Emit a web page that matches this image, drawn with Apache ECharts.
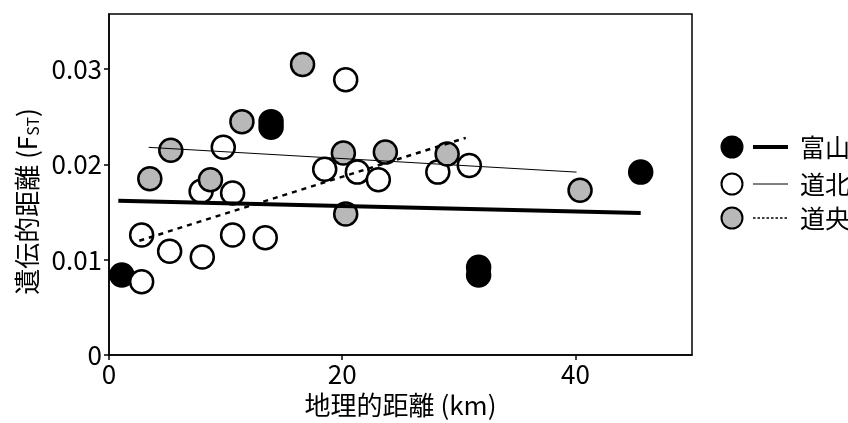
<!DOCTYPE html>
<html>
<head>
<meta charset="utf-8">
<script src="https://cdn.jsdelivr.net/npm/echarts@6/dist/echarts.min.js"></script>
<style>
  html, body { margin: 0; padding: 0; background: #fff; }
  #chart { width: 848px; height: 423px; }
</style>
</head>
<body>
<div id="chart"></div>
<script>
// 富山 (black), 道北 (open), 道央 (gray): [distance km, FST]
const toyamaPts = [[1.1, 0.0084], [13.9, 0.0245], [13.9, 0.0239], [31.7, 0.0092], [31.7, 0.0084], [45.6, 0.0192]]
const dohokuPts = [
  [2.8, 0.0077], [2.8, 0.0126], [5.2, 0.0109], [8.0, 0.0103], [10.6, 0.0126], [13.4, 0.0123],
  [7.9, 0.0172], [10.6, 0.0170], [9.8, 0.0218], [20.3, 0.0289], [18.5, 0.0195], [21.3, 0.0192],
  [23.1, 0.0184], [28.2, 0.0192], [30.9, 0.0199]
]
const dooPts = [
  [3.5, 0.0185], [5.3, 0.0215], [8.7, 0.0184], [11.4, 0.0245], [16.6, 0.0305], [20.1, 0.0212],
  [20.3, 0.0148], [23.7, 0.0213], [29.0, 0.0211], [40.4, 0.0173]
]
// regression lines
const toyamaFit = [[0.8, 0.0162], [45.6, 0.0149]]
const dohokuFit = [[3.4, 0.0218], [40.1, 0.0192]]
const dooFit = [[2.6, 0.0120], [30.6, 0.0228]]

const xTicks = [0, 20, 40]
const yTicks = [0, 0.01, 0.02, 0.03]
const legendNames = ['富山', '道北', '道央']

const FONT = "'Noto Sans CJK JP', 'Noto Sans', sans-serif"
const chart = echarts.init(document.getElementById('chart'))

const dot = (fill) => ({
  type: 'scatter',
  symbol: 'circle',
  symbolSize: 23,
  itemStyle: { color: fill, borderColor: '#000', borderWidth: 2.5, opacity: 1 },
  emphasis: { disabled: true },
  animation: false
})
const fit = (w, type) => ({
  type: 'line',
  symbol: 'none',
  z: 5,
  lineStyle: { color: '#000', width: w, type: type },
  emphasis: { disabled: true },
  animation: false
})

// legend rows drawn by hand: circle + line sample + label
const legendY = [147, 184, 218]
const legendFill = ['#000', '#fff', '#b8b8b8']
const legendLine = [{ w: 4, d: null }, { w: 1, d: null }, { w: 1.5, d: [2.5, 2] }]
const graphics = []
legendNames.forEach((name, i) => {
  graphics.push({
    type: 'circle', shape: { cx: 732, cy: legendY[i], r: 10.5 },
    style: { fill: legendFill[i], stroke: '#000', lineWidth: 2 }
  })
  graphics.push({
    type: 'line', shape: { x1: 753, y1: legendY[i], x2: 788, y2: legendY[i] },
    style: { stroke: '#000', lineWidth: legendLine[i].w, lineDash: legendLine[i].d }
  })
  graphics.push({
    type: 'text', x: 800, y: legendY[i],
    style: { text: name, fill: '#000', font: '25px ' + FONT, verticalAlign: 'middle' }
  })
})

chart.setOption({
  backgroundColor: '#fff',
  textStyle: { fontFamily: FONT },
  grid: {
    left: 109, right: 156, top: 14, bottom: 65,
    show: true, borderColor: '#000', borderWidth: 1.5
  },
  xAxis: {
    type: 'value', min: 0, max: 50, interval: 20,
    name: '地理的距離 (km)', nameLocation: 'middle', nameGap: 37,
    nameTextStyle: { color: '#000', fontSize: 26, fontFamily: FONT },
    axisLine: { show: true, lineStyle: { color: '#000', width: 1.5 } },
    axisTick: { show: true, length: 5, customValues: xTicks, lineStyle: { color: '#000', width: 1.5 } },
    axisLabel: {
      color: '#000', fontSize: 26, margin: 6, fontFamily: FONT,
      customValues: xTicks,
      formatter: (v) => String(v)
    },
    splitLine: { show: false }
  },
  yAxis: {
    type: 'value', min: 0, max: 0.0358, interval: 0.01,
    name: '{n|遺伝的距離 (F}{s|ST}{n|)}', nameLocation: 'middle', nameGap: 68,
    nameTextStyle: {
      color: '#000', fontFamily: FONT, padding: [0, 34, 0, 0],
      rich: {
        n: { fontSize: 26, color: '#000', fontFamily: FONT },
        s: { fontSize: 16, color: '#000', fontFamily: FONT, verticalAlign: 'bottom', padding: [8, 0, 0, 0] }
      }
    },
    axisLine: { show: true, lineStyle: { color: '#000', width: 1.5 } },
    axisTick: { show: true, length: 5, customValues: yTicks, lineStyle: { color: '#000', width: 1.5 } },
    axisLabel: {
      color: '#000', fontSize: 26, margin: 7, fontFamily: FONT,
      customValues: yTicks,
      formatter: (v) => (v === 0 ? '0' : v.toFixed(2))
    },
    splitLine: { show: false }
  },
  series: [
    Object.assign(dot('#000'), { name: legendNames[0], data: toyamaPts, z: 2 }),
    Object.assign(dot('#fff'), { name: legendNames[1], data: dohokuPts, z: 3 }),
    Object.assign(dot('#b8b8b8'), { name: legendNames[2], data: dooPts, z: 4 }),
    Object.assign(fit(4, 'solid'), { name: legendNames[0] + ' fit', data: toyamaFit }),
    Object.assign(fit(1, 'solid'), { name: legendNames[1] + ' fit', data: dohokuFit }),
    Object.assign(fit(2.5, [5, 5]), { name: legendNames[2] + ' fit', data: dooFit })
  ],
  graphic: graphics
})
</script>
</body>
</html>
